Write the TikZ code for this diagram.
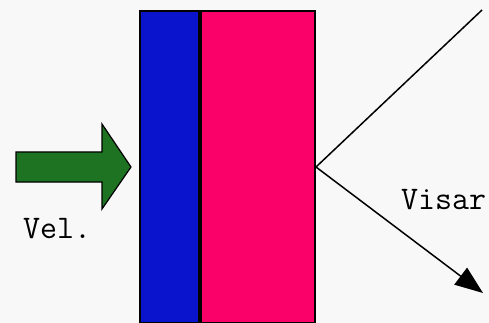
\documentclass[tikz,border=0pt]{standalone}
\usetikzlibrary{arrows.meta,positioning}
\definecolor{layerblue}{RGB}{10,20,205}
\definecolor{layerpink}{RGB}{250,0,105}
\definecolor{pushgreen}{RGB}{30,115,35}
\definecolor{paper}{RGB}{248,248,248}
\tikzset{
	layer/.style={draw=black, line width=2pt, minimum height=312pt, inner sep=0pt, anchor=north west},
	ray/.style={line width=1.5pt},
	tag/.style={font=\ttfamily\fontsize{33}{33}\selectfont, inner sep=0pt, anchor=base west}
}
\begin{document}
\begin{tikzpicture}[x=1pt, y=-1pt]
		\fill[paper] (0,0) rectangle (489,323);
		\useasboundingbox (0,0) rectangle (489,323);
		% the two layers of the target
		\node[layer, fill=layerblue, minimum width=59pt] (blue) at (139,10) {};
		\node[layer, fill=layerpink, minimum width=114pt] (pink) at (blue.north east) {};
		% push arrow
		\filldraw[fill=pushgreen, draw=black, line width=1.2pt]
			(16,152) -- (102,152) -- (102,124) -- (131,167) -- (102,209) -- (102,182) -- (16,182) -- cycle;
		\node[tag] (vel) at (23,238) {Vel.};
		% probe beams
		\coordinate (hit) at (pink.east);
		\coordinate (up) at (482,10);
		\coordinate (down) at (483,293);
		\draw[ray] (hit) -- (up);
		\draw[ray, -{Triangle[length=28pt, width=21pt]}] (hit) -- (down);
		\node[tag] (visar) at (401,209) {Visar};
	\end{tikzpicture}
\end{document}
